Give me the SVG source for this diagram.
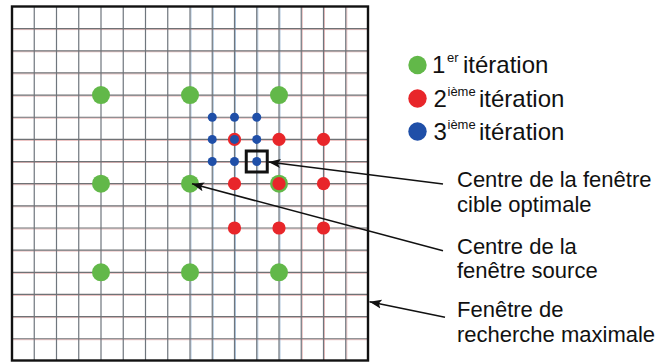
<svg xmlns="http://www.w3.org/2000/svg" width="656" height="362" viewBox="0 0 656 362">
<style>
.gv{stroke:#6f767d;stroke-width:1.2;fill:none}
.gh{stroke:#6f7275;stroke-width:1.2;fill:none}
.cr{stroke:#d98a8a;stroke-width:0.8;fill:none;opacity:0.7}
.cb{stroke:#7fa6cc;stroke-width:0.9;fill:none;opacity:0.7}
.g{fill:#62b849}
.r{fill:#e8262a}
.b{fill:#1f4fa8}
.t{font-family:"Liberation Sans",Arial,sans-serif;fill:#111}
.lbl{font-size:22px}
.leg{font-size:24px}
.sup{font-size:13px}
.conn{stroke:#111;stroke-width:1.5;fill:none;marker-end:url(#ah)}
</style>
<defs>
<marker id="ah" markerUnits="userSpaceOnUse" markerWidth="14" markerHeight="10" refX="12" refY="5" orient="auto">
<path d="M0,0.5 L12,5 L0,9.5 L2.5,5 z" fill="#111"/>
</marker>
</defs>
<rect width="656" height="362" fill="#fff"/>
<g id="grid">
<g id="grid-colour">
<path class="cr" d="M13,29.6H367M13,51.8H367M13,73.9H367M13,96.1H367M13,118.2H367M13,140.4H367M13,162.5H367M13,184.7H367M13,206.8H367M13,229H367M13,251.1H367M13,273.3H367M13,295.4H367M13,317.6H367M13,339.7H367"/>
<path class="cb" d="M213.3,7V360M235.5,7V360M257.8,7V360M191,7V360M280,7V360"/>
<path class="cr" d="M302.3,7V360M324.5,7V360M346.8,7V360"/>
</g>
<path class="gv" d="M34.25,6.5V360.9M56.5,6.5V360.9M78.75,6.5V360.9M101,6.5V360.9M123.25,6.5V360.9M145.5,6.5V360.9M167.75,6.5V360.9M190,6.5V360.9M212.25,6.5V360.9M234.5,6.5V360.9M256.75,6.5V360.9M279,6.5V360.9M301.25,6.5V360.9M323.5,6.5V360.9M345.75,6.5V360.9"/>
<path class="gh" d="M12,28.65H368M12,50.8H368M12,72.95H368M12,95.1H368M12,117.25H368M12,139.4H368M12,161.55H368M12,183.7H368M12,205.85H368M12,228H368M12,250.15H368M12,272.3H368M12,294.45H368M12,316.6H368M12,338.75H368"/>
<rect id="search-window" x="12" y="6.5" width="356" height="354" fill="none" stroke="#111" stroke-width="2.4"/>
</g>
<g id="iter1">
<circle class="g" cx="101" cy="95.1" r="9"/>
<circle class="g" cx="190" cy="95.1" r="9"/>
<circle class="g" cx="279" cy="95.1" r="9"/>
<circle class="g" cx="101" cy="183.7" r="9"/>
<circle class="g" cx="190" cy="183.7" r="9"/>
<circle class="g" cx="279" cy="183.7" r="9"/>
<circle class="g" cx="101" cy="272.3" r="9"/>
<circle class="g" cx="190" cy="272.3" r="9"/>
<circle class="g" cx="279" cy="272.3" r="9"/>
</g>
<g id="iter2">
<circle class="r" cx="234.5" cy="139.4" r="6.6"/>
<circle class="r" cx="279" cy="139.4" r="6.6"/>
<circle class="r" cx="323.5" cy="139.4" r="6.6"/>
<circle class="r" cx="234.5" cy="183.7" r="6.6"/>
<circle class="r" cx="279" cy="183.7" r="6.6"/>
<circle class="r" cx="323.5" cy="183.7" r="6.6"/>
<circle class="r" cx="234.5" cy="228" r="6.6"/>
<circle class="r" cx="279" cy="228" r="6.6"/>
<circle class="r" cx="323.5" cy="228" r="6.6"/>
</g>
<g id="iter3">
<circle class="b" cx="212.25" cy="117.25" r="4.5"/>
<circle class="b" cx="234.5" cy="117.25" r="4.5"/>
<circle class="b" cx="256.75" cy="117.25" r="4.5"/>
<circle class="b" cx="212.25" cy="139.4" r="4.5"/>
<circle class="b" cx="234.5" cy="139.4" r="4.5"/>
<circle class="b" cx="256.75" cy="139.4" r="4.5"/>
<circle class="b" cx="212.25" cy="161.55" r="4.5"/>
<circle class="b" cx="234.5" cy="161.55" r="4.5"/>
<circle class="b" cx="256.75" cy="161.55" r="4.5"/>
</g>
<g id="optimal-target">
<rect x="246.25" y="151" width="21" height="21" fill="none" stroke="#111" stroke-width="3"/>
</g>
<g id="connectors">
<path class="conn" d="M443,184 L268.5,162"/>
<path class="conn" d="M443,250.7 L192,183.8"/>
<path class="conn" d="M445,317.3 L369.5,301.7"/>
</g>
<g id="legend">
<g id="legend-1">
<circle class="g" cx="417.5" cy="65" r="9.2"/>
<text class="t leg" x="432" y="72.5">1</text>
<text class="t sup" x="447" y="62">er</text>
<text class="t leg" x="463" y="72.5">itération</text>
</g>
<g id="legend-2">
<circle class="r" cx="417.5" cy="98.5" r="9.2"/>
<text class="t leg" x="433.5" y="106.5">2</text>
<text class="t sup" x="447.5" y="96">ième</text>
<text class="t leg" x="479" y="106.5">itération</text>
</g>
<g id="legend-3">
<circle class="b" cx="417.5" cy="131.5" r="9.2"/>
<text class="t leg" x="433.5" y="139.5">3</text>
<text class="t sup" x="447.5" y="129">ième</text>
<text class="t leg" x="479" y="139.5">itération</text>
</g>
</g>
<g id="label-optimal">
<text class="t lbl" x="457" y="186.7">Centre de la fenêtre</text>
<text class="t lbl" x="457" y="211.7">cible optimale</text>
</g>
<g id="label-source">
<text class="t lbl" x="457" y="253.5">Centre de la</text>
<text class="t lbl" x="457" y="278.3">fenêtre source</text>
</g>
<g id="label-window">
<text class="t lbl" x="457" y="317.3">Fenêtre de</text>
<text class="t lbl" x="457" y="341.7">recherche maximale</text>
</g>
</svg>
